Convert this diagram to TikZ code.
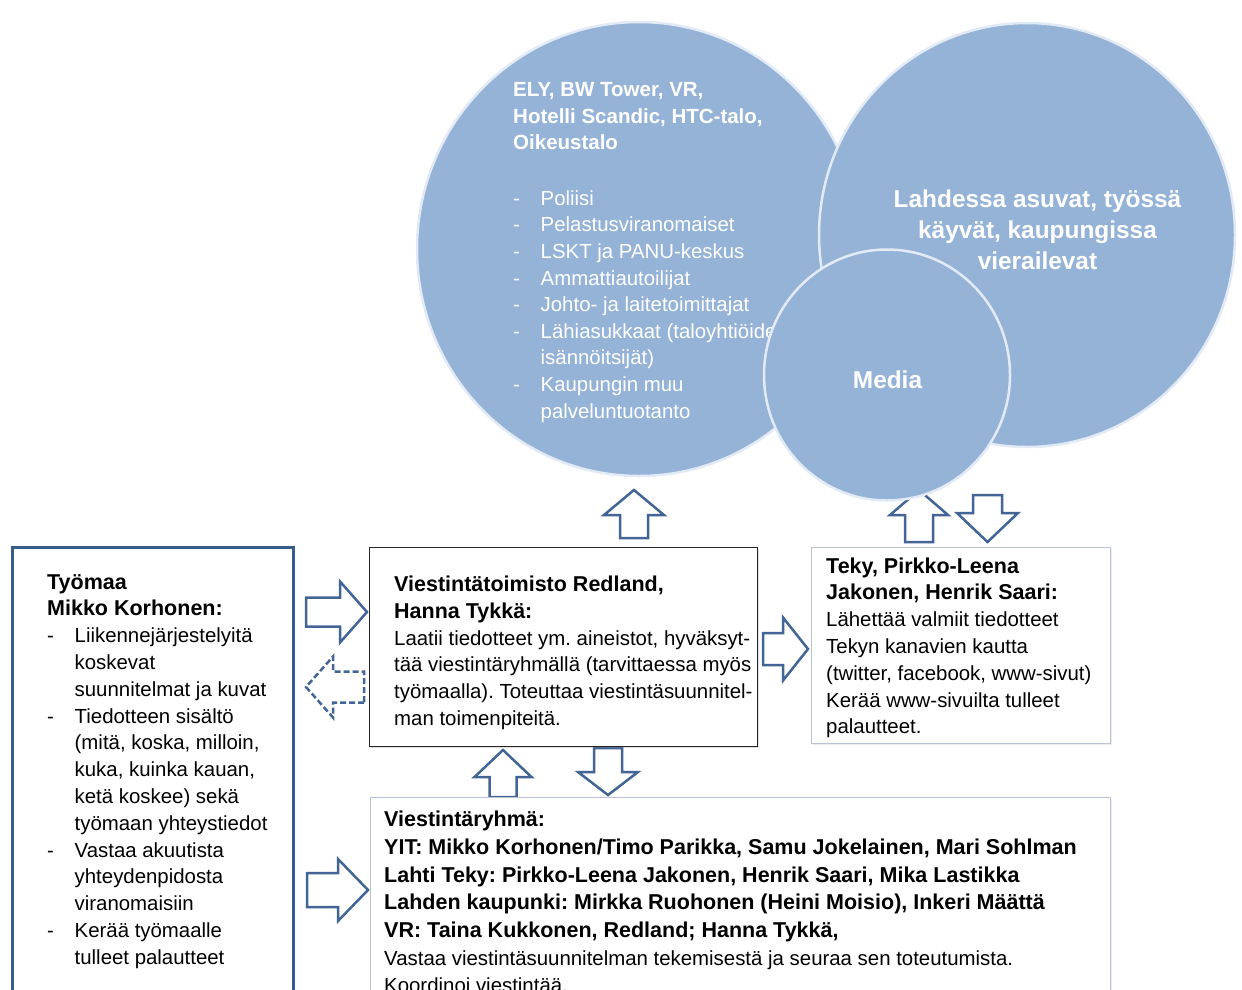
\documentclass[tikz,border=0pt]{standalone}
\usepackage{fontspec}
\setmainfont{Liberation Sans}
\usetikzlibrary{shapes.geometric,shadows,positioning}
\frenchspacing

\definecolor{bubble}{RGB}{149,179,215}
\definecolor{bubbleedge}{RGB}{226,234,245}
\definecolor{arrowblue}{RGB}{66,101,150}
\definecolor{siteblue}{RGB}{56,93,138}
\definecolor{paleedge}{RGB}{185,195,212}

\newcommand{\itm}{\makebox[27.5pt][l]{-}}
\newcommand{\ind}{\makebox[27.5pt]{}}
\newcommand{\hd}[1]{{\bfseries\fontsize{21.5}{26.6}\selectfont #1}}
% block arrow: [style]{tail}{angle}{length}{shaft}{head width}{head length}
\newcommand{\blockarrow}[7][]{%
  \draw[arrowline,#1,shift={#2},rotate=#3]
    (0,-#5/2) -- (#4-#7,-#5/2) -- (#4-#7,-#6/2) -- (#4,0)
    -- (#4-#7,#6/2) -- (#4-#7,#5/2) -- (0,#5/2) -- cycle;}

\tikzset{
  bubblenode/.style={ellipse, fill=bubble, draw=bubbleedge, line width=2.5pt, inner sep=0pt},
  boxnode/.style={rectangle, inner sep=0pt, anchor=north west, fill=white},
  txt/.style={anchor=north west, inner sep=0pt, align=left, font=\fontsize{20.4}{26.8}\selectfont},
  arrowline/.style={draw=arrowblue, fill=white, line width=2.5pt, line join=miter},
}

\begin{document}
\begin{tikzpicture}[x=1pt,y=-1pt]
\fill[white] (0,0) rectangle (1242,989);
\useasboundingbox (0,0) rectangle (1242,989);

% block arrows
\blockarrow{(306,612)}{0}{61}{29}{61}{27}
\blockarrow[dashed, dash pattern=on 6pt off 3pt]{(364,687)}{180}{58}{31}{61}{27}
\blockarrow{(634,538)}{90}{48}{28}{60}{25}
\blockarrow{(763,649)}{0}{45}{32}{63}{25}
\blockarrow{(503,797)}{90}{47}{27}{57}{27}
\blockarrow{(608,748)}{-90}{47}{28}{60}{23}
\blockarrow{(919,542)}{90}{52}{28}{58}{25}
\blockarrow{(987.5,495)}{-90}{47}{29}{61}{29}
\blockarrow{(307,890)}{0}{61}{34}{62}{30}

% circles
\node[bubblenode, minimum width=444pt, minimum height=454pt] (auth) at (639,249) {};
\node[txt, text=white, font=\bfseries\fontsize{20.5}{26.5}\selectfont] (authtitle) at (513,78)
  {\strut ELY, BW Tower, VR,\\Hotelli Scandic, HTC-talo,\\Oikeustalo};
\node[txt, text=white, font=\fontsize{20.4}{26.6}\selectfont] (authlist) at (513,186.4)
  {\strut\itm Poliisi\\
   \itm Pelastusviranomaiset\\
   \itm LSKT ja PANU-keskus\\
   \itm Ammattiautoilijat\\
   \itm Johto- ja laitetoimittajat\\
   \itm Lähiasukkaat (taloyhtiöiden\\
   \ind isännöitsijät)\\
   \itm Kaupungin muu\\
   \ind palveluntuotanto};

\node[bubblenode, minimum width=416pt, minimum height=424pt] (public) at (1027,235) {};
\node[anchor=north, inner sep=0pt, align=center, text=white, font=\bfseries\fontsize{24.4}{31}\selectfont] (publictxt) at (1037.5,185.3)
  {\strut Lahdessa asuvat, työssä\\käyvät, kaupungissa\\vierailevat};

\node[bubblenode, minimum width=246pt, minimum height=251pt] (media) at (887,375) {};
\node[anchor=base, inner sep=0pt, text=white, font=\bfseries\fontsize{24.4}{31}\selectfont] (mediatxt) at (887.5,388) {Media};

% boxes
\node[boxnode, draw=siteblue, line width=2.5pt, minimum width=281pt, minimum height=470pt] (site) at (11,546) {};
\node[txt] (sitetxt) at (47,570.2)
  {\strut\hd{Työmaa}\\
   \hd{Mikko Korhonen:}\\
   \itm Liikennejärjestelyitä\\
   \ind koskevat\\
   \ind suunnitelmat ja kuvat\\
   \itm Tiedotteen sisältö\\
   \ind (mitä, koska, milloin,\\
   \ind kuka, kuinka kauan,\\
   \ind ketä koskee) sekä\\
   \ind työmaan yhteystiedot\\
   \itm Vastaa akuutista\\
   \ind yhteydenpidosta\\
   \ind viranomaisiin\\
   \itm Kerää työmaalle\\
   \ind tulleet palautteet};

\node[boxnode, draw=black!85, line width=1.4pt, minimum width=388pt, minimum height=199pt,
  drop shadow={shadow xshift=1.5pt, shadow yshift=-1.5pt, opacity=0.25}] (office) at (369,547) {};
\node[txt] (officetxt) at (394,572.6)
  {\strut\hd{Viestintätoimisto Redland,}\\
   \hd{Hanna Tykkä:}\\
   Laatii tiedotteet ym. aineistot, hyväksyt-\\
   tää viestintäryhmällä (tarvittaessa myös\\
   työmaalla). Toteuttaa viestintäsuunnitel-\\
   man toimenpiteitä.};

\node[boxnode, draw=paleedge, line width=1.4pt, minimum width=299pt, minimum height=196pt,
  drop shadow={shadow xshift=1pt, shadow yshift=-1pt, opacity=0.15}] (teky) at (811,547) {};
\node[txt] (tekytxt) at (826,554.2)
  {\strut\hd{Teky, Pirkko-Leena}\\
   \hd{Jakonen, Henrik Saari:}\\
   Lähettää valmiit tiedotteet\\
   Tekyn kanavien kautta\\
   (twitter, facebook, www-sivut)\\
   Kerää www-sivuilta tulleet\\
   palautteet.};

\node[boxnode, draw=paleedge, line width=1.4pt, minimum width=740pt, minimum height=230pt,
  drop shadow={shadow xshift=1pt, shadow yshift=-1pt, opacity=0.15}] (group) at (370,797) {};
\node[txt, font=\fontsize{20.4}{27.7}\selectfont] (grouptxt) at (384,807.1)
  {\strut\hd{Viestintäryhmä:}\\
   \hd{YIT: Mikko Korhonen/Timo Parikka, Samu Jokelainen, Mari Sohlman}\\
   \hd{Lahti Teky: Pirkko-Leena Jakonen, Henrik Saari, Mika Lastikka}\\
   \hd{Lahden kaupunki: Mirkka Ruohonen (Heini Moisio), Inkeri Määttä}\\
   \hd{VR: Taina Kukkonen, Redland; Hanna Tykkä,}\\
   Vastaa viestintäsuunnitelman tekemisestä ja seuraa sen toteutumista.\\
   Koordinoi viestintää.};
\end{tikzpicture}
\end{document}
